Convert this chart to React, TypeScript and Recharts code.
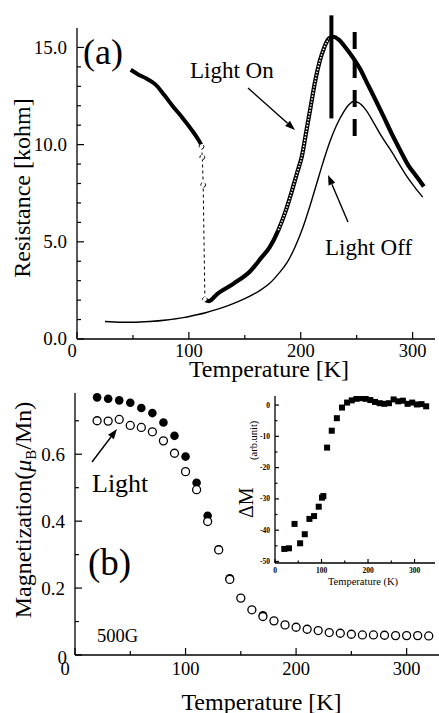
import React from "react";
import { ComposedChart, Line, Scatter, XAxis, YAxis, ReferenceLine } from "recharts";

const FONT = "'Liberation Serif', 'Times New Roman', serif";

// ---- panel (a): resistance vs temperature ----
// light on, low-T branch
const onColdT = [48, 55, 62, 70, 78, 86, 94, 102, 108, 111];
const onColdR = [13.85, 13.6, 13.4, 13.1, 12.55, 11.95, 11.4, 10.8, 10.3, 10.0];
// light on, the jump
const onJumpT = [111.3, 112, 112.8, 114.3];
const onJumpR = [9.9, 9.35, 7.93, 2.04];
// light on, high-T branch
const onWarmT = [114.3, 118, 125, 140, 155, 165, 172, 180, 186, 192, 197, 201, 205, 209, 213, 217, 221, 225, 229, 234, 240, 247, 253, 259, 266, 274, 281, 289, 296, 303, 310];
const onWarmR = [2.0, 1.95, 2.3, 2.85, 3.5, 4.2, 4.7, 5.6, 6.5, 7.6, 8.6, 9.4, 10.7, 12.0, 13.3, 14.3, 15.0, 15.45, 15.55, 15.4, 15.0, 14.45, 13.9, 13.2, 12.4, 11.45, 10.6, 9.7, 8.95, 8.4, 7.85];
// light off
const offT = [25, 40, 50, 65, 80, 95, 105, 115, 125, 135, 145, 155, 163, 172, 180, 188, 195, 202, 208, 214, 220, 226, 232, 238, 243, 247, 252, 258, 265, 272, 280, 288, 295, 302, 309];
const offR = [0.9, 0.86, 0.86, 0.9, 0.98, 1.1, 1.22, 1.35, 1.52, 1.72, 1.95, 2.22, 2.48, 2.85, 3.35, 3.95, 4.75, 5.75, 6.8, 7.95, 9.1, 10.15, 11.0, 11.65, 12.05, 12.22, 12.15, 11.8, 11.15, 10.45, 9.75, 9.0, 8.35, 7.8, 7.3];
// the two vertical marks (top end first so the dashes start at the top)
const markT = [227.4, 248.2];
const markHigh = [16.65, 15.8];
const markLow = [11.35, 10.4];

const tempTicksA = [0, 50, 100, 150, 200, 250, 300];
const resTicks = Array.from({ length: 16 }, (_, i) => i);

// ---- panel (b): magnetization ----
const magT = [20, 30, 40, 50, 60, 70, 80, 90, 100, 110, 120, 130, 140, 150, 160, 170, 180, 190, 200, 210, 220, 230, 240, 250, 260, 270, 280, 290, 300, 310, 320];
const magLight = [0.7, 0.699, 0.704, 0.686, 0.68, 0.667, 0.64, 0.603, 0.548, 0.494, 0.399, 0.314, 0.226, 0.17, 0.135, 0.115, 0.102, 0.09, 0.083, 0.077, 0.073, 0.067, 0.065, 0.062, 0.06, 0.06, 0.059, 0.058, 0.058, 0.058, 0.057];
const darkT = [20, 30, 40, 50, 60, 70, 80, 90, 100, 110, 120, 130, 140, 170];
const magDark = [0.77, 0.766, 0.761, 0.754, 0.738, 0.723, 0.695, 0.655, 0.593, 0.515, 0.416, 0.316, 0.229, 0.119];

const tempTicksB = [0, 50, 100, 150, 200, 250, 300];
const magTicks = [0, 0.1, 0.2, 0.3, 0.4, 0.5, 0.6, 0.7];

// ---- inset: delta M ----
const dmT = [20, 30, 42, 54, 64, 74, 84, 94, 101, 104, 112, 122, 133, 144, 155, 165, 175, 185, 195, 205, 215, 225, 235, 245, 255, 265, 275, 285, 295, 305, 315, 325];
const dmV = [-46.0, -45.8, -38.0, -44.2, -41.3, -36.4, -35.5, -32.5, -29.6, -29.1, -13.6, -8.2, -4.2, -0.8, 0.8, 1.5, 2.0, 2.2, 2.0, 1.6, 1.0, 0.6, 0.4, 0.6, 1.8, 1.2, 1.4, 0.4, 0.8, 0.2, 0.3, -0.4];
const dmTempTicks = [0, 50, 100, 150, 200, 250, 300];
const dmTicks = [-50, -45, -40, -35, -30, -25, -20, -15, -10, -5, 0];

const zip = (ts: number[], vs: number[]) => ts.map((t, i) => ({ t, v: vs[i] }));

const frame = { stroke: "#000", strokeWidth: 1.3 };

type Side = "bottom" | "top" | "left" | "right";
type TickOpts = {
  major: number;
  minor: number;
  fontSize?: number;
  gap?: number;
  bold?: boolean;
  fmt?: (v: number) => string;
  nudge?: (v: number) => [number, number];
};

// inward ticks, longer on the labelled ones
const sideTick = (side: Side, majors: number[], o: TickOpts) => (props: any) => {
  const { x, y, payload } = props;
  const v = payload.value;
  const isMajor = majors.some((m) => Math.abs(m - v) < 1e-9);
  const len = isMajor ? o.major : o.minor;
  let ln = { x1: x, y1: y, x2: x, y2: y };
  if (side === "bottom") ln.y2 = y - len;
  if (side === "top") ln.y2 = y + len;
  if (side === "left") ln.x2 = x + len;
  if (side === "right") ln.x2 = x - len;
  let label = null;
  if (isMajor && o.fmt) {
    const fs = o.fontSize || 18.5;
    const gap = o.gap || 0;
    const [nx, ny] = o.nudge ? o.nudge(v) : [0, 0];
    const common = { fontFamily: FONT, fontSize: fs, fill: "#000", fontWeight: o.bold ? 700 : 400 };
    label =
      side === "bottom" ? (
        <text x={x + nx} y={y + gap + ny} textAnchor="middle" {...common}>{o.fmt(v)}</text>
      ) : (
        <text x={x - gap + nx} y={y + ny} dy="0.34em" textAnchor="end" {...common}>{o.fmt(v)}</text>
      );
  }
  return (
    <g>
      <line {...ln} stroke="#000" strokeWidth={1.2} />
      {label}
    </g>
  );
};

function Arrow({ x1, y1, x2, y2 }: { x1: number; y1: number; x2: number; y2: number }) {
  const a = Math.atan2(y2 - y1, x2 - x1);
  const L = 10, Wd = 3.6;
  const bx = x2 - L * Math.cos(a), by = y2 - L * Math.sin(a);
  const px = -Math.sin(a) * Wd, py = Math.cos(a) * Wd;
  return (
    <g>
      <line x1={x1} y1={y1} x2={bx} y2={by} stroke="#000" strokeWidth={1.4} />
      <polygon points={`${x2},${y2} ${bx + px},${by + py} ${bx - px},${by - py}`} fill="#000" />
    </g>
  );
}

function PanelA() {
  const beadRange = zip(onWarmT, onWarmR).filter((p) => p.t >= 176 && p.t <= 226);
  return (
    <ComposedChart width={439} height={380} margin={{ top: 28, right: 4, bottom: 0, left: 0 }}>
      <XAxis dataKey="t" type="number" domain={[0, 320]} allowDataOverflow ticks={tempTicksA} interval={0}
        height={41} tickSize={0} tickMargin={0} tickLine={false} axisLine={frame}
        tick={sideTick("bottom", [0, 100, 200, 300], {
          major: 7, minor: 4, gap: 17.5, fmt: (v) => String(v), nudge: (v) => [v === 0 ? -5 : 0, 0],
        })} />
      <XAxis xAxisId="top" orientation="top" type="number" domain={[0, 320]} allowDataOverflow ticks={tempTicksA}
        interval={0} height={0} tickSize={0} tickMargin={0} tickLine={false} axisLine={frame}
        tick={sideTick("top", [0, 100, 200, 300], { major: 7, minor: 4 })} />
      <YAxis dataKey="v" type="number" domain={[0, 16]} allowDataOverflow ticks={resTicks} interval={0}
        width={77} tickSize={0} tickMargin={0} tickLine={false} axisLine={frame}
        tick={sideTick("left", [0, 5, 10, 15], { major: 7, minor: 4, gap: 10, fontSize: 19, fmt: (v) => v.toFixed(1) })} />
      <YAxis yAxisId="right" orientation="right" type="number" domain={[0, 16]} allowDataOverflow ticks={resTicks}
        interval={0} width={0} tickSize={0} tickMargin={0} tickLine={false} axisLine={frame}
        tick={sideTick("right", [0, 5, 10, 15], { major: 7, minor: 4 })} />

      <Line data={zip(offT, offR)} dataKey="v" type="monotone" stroke="#000" strokeWidth={1.4} dot={false} activeDot={false} isAnimationActive={false} />
      <Line data={zip(onColdT, onColdR)} dataKey="v" type="monotone" stroke="#000" strokeWidth={4} dot={false} activeDot={false} isAnimationActive={false} />
      <Line data={zip(onJumpT, onJumpR)} dataKey="v" type="linear" stroke="#000" strokeWidth={1} strokeDasharray="3 3"
        dot={{ r: 2.4, fill: "#fff", stroke: "#000", strokeWidth: 1 }} activeDot={false} isAnimationActive={false} />
      <Line data={zip(onWarmT, onWarmR)} dataKey="v" type="monotone" stroke="#000" strokeWidth={4.2} dot={false} activeDot={false} isAnimationActive={false} />
      <Line data={beadRange} dataKey="v" type="monotone" stroke="#fff" strokeWidth={1.6} strokeDasharray="1.4 1.6" dot={false} activeDot={false} isAnimationActive={false} />

      <ReferenceLine segment={[{ x: markT[0], y: markHigh[0] }, { x: markT[0], y: markLow[0] }]} stroke="#000" strokeWidth={4} ifOverflow="visible" />
      <ReferenceLine segment={[{ x: markT[1], y: markHigh[1] }, { x: markT[1], y: markLow[1] }]} stroke="#000" strokeWidth={4} strokeDasharray="17 12" ifOverflow="visible" />
    </ComposedChart>
  );
}

function PanelB() {
  return (
    <ComposedChart width={442} height={353} margin={{ top: 33, right: 0, bottom: 0, left: 0 }}>
      <XAxis dataKey="t" type="number" domain={[0, 332]} allowDataOverflow ticks={tempTicksB} interval={0}
        height={58} tickSize={0} tickMargin={0} tickLine={false} axisLine={frame}
        tick={sideTick("bottom", [0, 100, 200, 300], {
          major: 7, minor: 4, gap: 20, fmt: (v) => String(v), nudge: (v) => [v === 0 ? -10 : 0, 0],
        })} />
      <XAxis xAxisId="top" orientation="top" type="number" domain={[0, 332]} allowDataOverflow ticks={tempTicksB}
        interval={0} height={0} tickSize={0} tickMargin={0} tickLine={false} axisLine={frame}
        tick={sideTick("top", [0, 100, 200, 300], { major: 7, minor: 4 })} />
      <YAxis dataKey="v" type="number" domain={[0, 0.783]} allowDataOverflow ticks={magTicks} interval={0}
        width={75} tickSize={0} tickMargin={0} tickLine={false} axisLine={frame}
        tick={sideTick("left", [0, 0.2, 0.4, 0.6], {
          major: 7, minor: 4, gap: 10, fontSize: 19,
          fmt: (v) => (v === 0 ? "0" : v.toFixed(1)), nudge: (v) => (v === 0 ? [2, 3] : [0, 0]),
        })} />
      <YAxis yAxisId="right" orientation="right" type="number" domain={[0, 0.783]} allowDataOverflow ticks={magTicks}
        interval={0} width={0} tickSize={0} tickMargin={0} tickLine={false} axisLine={frame}
        tick={sideTick("right", [0, 0.2, 0.4, 0.6], { major: 7, minor: 4 })} />

      <Scatter data={zip(darkT, magDark)} dataKey="v" isAnimationActive={false}
        shape={(p: any) => <circle cx={p.cx} cy={p.cy} r={4.3} fill="#000" />} />
      <Scatter data={zip(magT, magLight)} dataKey="v" isAnimationActive={false}
        shape={(p: any) => <circle cx={p.cx} cy={p.cy} r={4} fill="#fff" stroke="#000" strokeWidth={1.3} />} />
    </ComposedChart>
  );
}

function Inset() {
  return (
    <ComposedChart width={214} height={215} margin={{ top: 16, right: 4, bottom: 0, left: 0 }}>
      <XAxis dataKey="t" type="number" domain={[0, 344]} allowDataOverflow ticks={dmTempTicks} interval={0}
        height={32} tickSize={0} tickMargin={0} tickLine={false} axisLine={frame}
        tick={sideTick("bottom", [0, 100, 200, 300], { major: 4, minor: 2.5, gap: 9.5, fontSize: 7.5, bold: true, fmt: (v) => String(v) })} />
      <XAxis xAxisId="top" orientation="top" type="number" domain={[0, 344]} allowDataOverflow ticks={dmTempTicks}
        interval={0} height={0} tickSize={0} tickMargin={0} tickLine={false} axisLine={frame}
        tick={sideTick("top", [0, 100, 200, 300], { major: 4, minor: 2.5 })} />
      <YAxis dataKey="v" type="number" domain={[-50.5, 2.9]} allowDataOverflow ticks={dmTicks} interval={0}
        width={50} tickSize={0} tickMargin={0} tickLine={false} axisLine={frame}
        tick={sideTick("left", [-50, -40, -30, -20, -10, 0], { major: 4, minor: 2.5, gap: 5, fontSize: 7.5, bold: true, fmt: (v) => String(v) })} />
      <YAxis yAxisId="right" orientation="right" type="number" domain={[-50.5, 2.9]} allowDataOverflow ticks={dmTicks}
        interval={0} width={0} tickSize={0} tickMargin={0} tickLine={false} axisLine={frame}
        tick={sideTick("right", [-50, -40, -30, -20, -10, 0], { major: 4, minor: 2.5 })} />
      <Scatter data={zip(dmT, dmV)} dataKey="v" isAnimationActive={false}
        shape={(p: any) => <rect x={p.cx - 3} y={p.cy - 3} width={6} height={6} fill="#000" />} />
    </ComposedChart>
  );
}

export default function App() {
  const txt = { fontFamily: FONT, fill: "#000" };
  return (
    <div style={{ position: "absolute", left: 0, top: 0, width: 439, height: 713, overflow: "hidden", background: "#fff" }}>
      <div style={{ position: "absolute", left: 0, top: 0 }}>
        <PanelA />
      </div>
      <div style={{ position: "absolute", left: 0, top: 360 }}>
        <PanelB />
      </div>
      <div style={{ position: "absolute", left: 225, top: 380 }}>
        <Inset />
      </div>
      <svg width={439} height={713} style={{ position: "absolute", left: 0, top: 0, pointerEvents: "none" }}>
        {/* panel (a) annotations */}
        <text x={83} y={64} fontSize={36} {...txt}>(a)</text>
        <text x={190} y={78} fontSize={23} {...txt}>Light On</text>
        <text x={325} y={255} fontSize={23} {...txt}>Light Off</text>
        <Arrow x1={248} y1={88} x2={295} y2={130} />
        <Arrow x1={348} y1={222} x2={328} y2={175} />
        <text x={30} y={188} fontSize={24} textAnchor="middle" transform="rotate(-90 30 188)" {...txt}>Resistance [kohm]</text>
        <text x={269} y={376.5} fontSize={24} textAnchor="middle" {...txt}>Temperature [K]</text>

        {/* panel (b) annotations */}
        <text x={88} y={575} fontSize={37} {...txt}>(b)</text>
        <text x={92} y={492} fontSize={26} {...txt}>Light</text>
        <Arrow x1={92} y1={462} x2={117} y2={429} />
        <text x={97} y={642} fontSize={18.5} {...txt}>500G</text>
        <text x={31} y={510} fontSize={24} textAnchor="middle" transform="rotate(-90 31 510)" {...txt}>
          Magnetization(<tspan fontStyle="italic">μ</tspan>
          <tspan fontSize={15} dy={5}>B</tspan>
          <tspan dy={-5}>/Mn)</tspan>
        </text>
        <text x={261.5} y={709.5} fontSize={24} textAnchor="middle" {...txt}>Temperature [K]</text>

        {/* inset annotations */}
        <text x={363} y={585} fontSize={10.5} textAnchor="middle" {...txt}>Temperature (K)</text>
        <text x={253} y={518} fontSize={20} transform="rotate(-90 253 518)" {...txt}>ΔM</text>
        <text x={257} y={460} fontSize={10.5} transform="rotate(-90 257 460)" {...txt}>(arb.unit)</text>
      </svg>
    </div>
  );
}
